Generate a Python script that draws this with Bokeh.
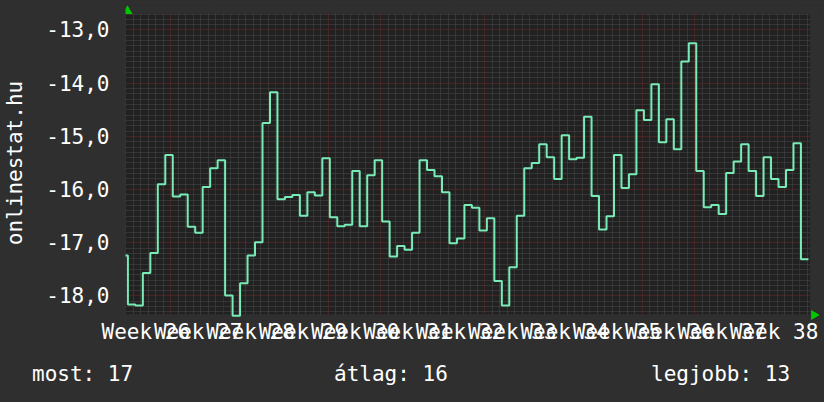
import numpy as np
from bokeh.plotting import figure
from bokeh.layouts import column
from bokeh.models import (Range1d, FixedTicker, Grid, LinearAxis, CustomJSTickFormatter,
                          AllLabels, BoxAnnotation, Div)
from bokeh.embed import file_html
from bokeh.resources import INLINE

# ---------------- data ----------------
# daily values (day -1 .. 90)
days = list(range(-1, 91))
rank = [
    -17.25,
    -18.17, -18.19, -17.58, -17.20, -15.91, -15.36, -16.14, -16.10, -16.71, -16.82,
    -15.96, -15.61, -15.46, -18.00, -18.38, -17.77, -17.25, -17.00, -14.76, -14.18,
    -16.19, -16.15, -16.11, -16.50, -16.06, -16.12, -15.42, -16.53, -16.70, -16.67,
    -15.66, -16.70, -15.74, -15.46, -16.61, -17.27, -17.07, -17.14, -16.82, -15.46,
    -15.64, -15.76, -16.06, -17.02, -16.93, -16.30, -16.35, -16.78, -16.55, -17.73,
    -18.19, -17.47, -16.50, -15.61, -15.51, -15.16, -15.40, -15.81, -14.99, -15.44,
    -15.41, -14.64, -16.13, -16.76, -16.51, -15.36, -15.98, -15.72, -14.52, -14.70,
    -14.03, -15.12, -14.69, -15.25, -13.60, -13.26, -15.66, -16.34, -16.30, -16.47,
    -15.70, -15.48, -15.16, -15.66, -16.13, -15.40, -15.81, -15.96, -15.64, -15.14,
    -17.32,
]
week_labels = ["Week 26", "Week 27", "Week 28", "Week 29", "Week 30", "Week 31", "Week 32",
               "Week 33", "Week 34", "Week 35", "Week 36", "Week 37", "Week 38"]
y_ticks = [-13, -14, -15, -16, -17, -18]
stat_texts = ["most: 17", "átlag: 16", "legjobb: 13"]
y_title = "onlinestat.hu"

# ---------------- layout / style ----------------
W = 824
H_MAIN, H_STATS = 352, 50
AL, AR, AT, AB = 123, 809.5, 13, 314       # plot-area edges in px
FL, FR, FT, FB = 123, 820, 5, 320          # frame edges in px (slightly larger, for arrows)
PPX = 7.5                                  # px per day
PPU = 53.2                                 # px per unit
XA = -0.32                                 # day value at px AL
YA = -12.70                                # value at px AT

def px2x(px):
    return XA + (px - AL) / PPX

def py2y(py):
    return YA - (py - AT) / PPU

def crisp_x(d):
    return px2x(np.floor(AL + (d - XA) * PPX) + 0.5)

def crisp_y(v):
    return py2y(np.floor(AT + (YA - v) * PPU) + 0.5)

FONT = "DejaVu Sans Mono"
FS = "21px"
BG = "#2f2f2f"
FRAME_BG = "#212121"
LINE = "#78ecb6"
RED = "#6c2a2a"
GRAY = "#4a4a4a"
GREEN = "#00c800"

p = figure(width=W, height=H_MAIN,
           x_range=Range1d(px2x(FL), px2x(FR)), y_range=Range1d(py2y(FB), py2y(FT)),
           output_backend="svg", toolbar_location=None,
           x_axis_type=None, y_axis_type=None,
           min_border_left=FL, min_border_right=W - FR,
           min_border_top=FT, min_border_bottom=H_MAIN - FB,
           background_fill_color=BG, border_fill_color=BG,
           outline_line_color=None)

# dark plot area
p.add_layout(BoxAnnotation(left=px2x(AL), right=px2x(AR), top=py2y(AT), bottom=py2y(AB),
                           fill_color=FRAME_BG, fill_alpha=1, line_color=None, level="underlay"))

# grids (snapped to whole pixels so the dotted lines stay crisp)
minor_y = [crisp_y(v / 10) for v in range(-183, -126) if v % 10 != 0]
minor_x = [crisp_x(d - 0.2) for d in range(0, 92) if (d - 6) % 7 != 0]
week_grid = [5.8 + 7 * k for k in range(13)]
label_pos = [g - 3.4 for g in week_grid]
major_x = [crisp_x(g) for g in week_grid]
major_y = [crisp_y(v) for v in y_ticks]

for dim, ticks, color in ((1, minor_y, GRAY), (0, minor_x, GRAY),
                          (1, major_y, RED), (0, major_x, RED)):
    p.add_layout(Grid(dimension=dim, ticker=FixedTicker(ticks=ticks),
                      grid_line_color=color, grid_line_dash="1 1", grid_line_width=1))

# cover the grid outside the plot area (top, right, bottom strips)
for kw in (dict(bottom=py2y(AT)), dict(left=px2x(AR)), dict(top=py2y(AB))):
    p.add_layout(BoxAnnotation(fill_color=BG, fill_alpha=1, line_color=None,
                               level="underlay", **kw))

# data line
xs = days + [days[-1] + 1]
ys = rank + [rank[-1]]
p.step(xs, ys, mode="after", line_color=LINE, line_width=2)

# green axis arrows
p.scatter([px2x(125)], [py2y(10.5)], marker="triangle", size=10,
          fill_color=GREEN, line_color=None)
p.scatter([px2x(813.5)], [py2y(314.5)], marker="triangle", size=10, angle=-np.pi / 2,
          fill_color=GREEN, line_color=None)

# y axis
yax = LinearAxis(ticker=FixedTicker(ticks=y_ticks, minor_ticks=[]),
                 formatter=CustomJSTickFormatter(code="return tick.toFixed(1).replace('.', ',');"),
                 axis_line_color=None, major_tick_line_color=None, minor_tick_line_color=None,
                 major_tick_out=0, major_label_standoff=16,
                 major_label_text_color="white", major_label_text_font=FONT,
                 major_label_text_font_size=FS,
                 axis_label=y_title, axis_label_text_color="white",
                 axis_label_text_font=FONT, axis_label_text_font_size=FS,
                 axis_label_text_font_style="normal", axis_label_standoff=16)
p.add_layout(yax, "left")

# x axis
xax = LinearAxis(ticker=FixedTicker(ticks=label_pos, minor_ticks=[]),
                 formatter=CustomJSTickFormatter(args=dict(labels=week_labels, first=label_pos[0]),
                                                 code="const i = Math.round((tick - first) / 7); return labels[i];"),
                 major_label_policy=AllLabels(),
                 axis_line_color=None, major_tick_line_color=None, minor_tick_line_color=None,
                 major_tick_out=0, major_label_standoff=5 - (FB - AB),
                 major_label_text_color="white", major_label_text_font=FONT,
                 major_label_text_font_size=FS)
p.add_layout(xax, "below")

# stats row below the chart
stat_left = [32, 334, 651]
spans = "".join(
    '<span style="position:absolute;left:%dpx;top:10px;line-height:24px;white-space:pre;">%s</span>'
    % (x, t) for x, t in zip(stat_left, stat_texts))
stats = Div(text='<div style="position:relative;width:%dpx;height:%dpx;'
                 "font-family:'%s';font-size:%s;color:#ffffff;\">%s</div>"
                 % (W, H_STATS, FONT, FS, spans),
            width=W, height=H_STATS, margin=(0, 0, 0, 0))

layout = column(p, stats, spacing=0)

html = file_html(layout, INLINE)
html = html.replace("</head>",
                    "<style>html,body{margin:0;padding:0;background:%s;overflow:hidden}</style></head>" % BG, 1)
open("out.html", "w").write(html)
